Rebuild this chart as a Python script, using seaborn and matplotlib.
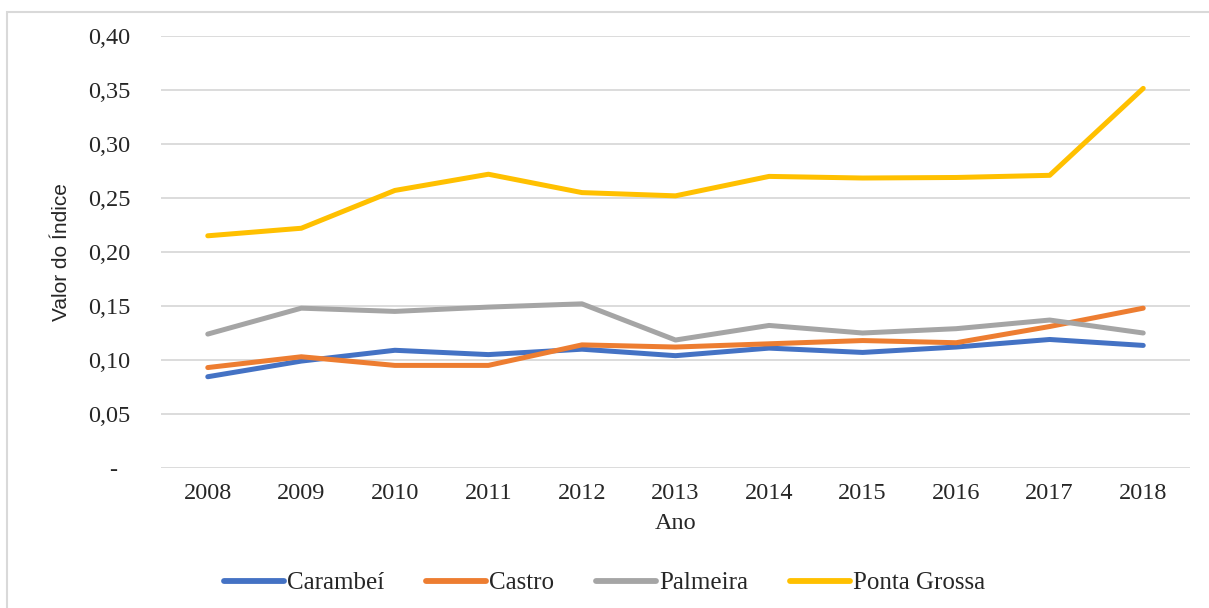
import matplotlib
matplotlib.use("Agg")
import matplotlib.pyplot as plt
import matplotlib.ticker as mticker
from matplotlib.patches import Rectangle
import pandas as pd
import seaborn as sns

# dados
anos = [2008, 2009, 2010, 2011, 2012, 2013, 2014, 2015, 2016, 2017, 2018]
carambei = [0.0845, 0.099, 0.109, 0.105, 0.110, 0.104, 0.111, 0.107, 0.112, 0.119, 0.1135]
castro = [0.093, 0.103, 0.095, 0.095, 0.114, 0.112, 0.115, 0.118, 0.116, 0.131, 0.148]
palmeira = [0.124, 0.148, 0.145, 0.149, 0.152, 0.1185, 0.132, 0.125, 0.129, 0.137, 0.125]
ponta_grossa = [0.215, 0.222, 0.257, 0.272, 0.255, 0.252, 0.270, 0.2685, 0.269, 0.271, 0.3515]

municipios = ["Carambeí", "Castro", "Palmeira", "Ponta Grossa"]
cores = ["#4472C4", "#ED7D31", "#A5A5A5", "#FFC000"]
y_ticks = [0, 0.05, 0.10, 0.15, 0.20, 0.25, 0.30, 0.35, 0.40]

df = pd.DataFrame({
    "Ano": anos * 4,
    "valor": carambei + castro + palmeira + ponta_grossa,
    "municipio": [m for m in municipios for _ in anos],
})

sns.set_style("white")
serif = ["Liberation Serif", "DejaVu Serif"]

fig = plt.figure(figsize=(12.09, 6.08), dpi=100)
ax = fig.add_axes([161 / 1209, 1 - 468 / 608, (1190 - 161) / 1209, (468 - 36) / 608])

sns.lineplot(data=df, x="Ano", y="valor", hue="municipio", hue_order=municipios,
             palette=cores, linewidth=3.6, ax=ax, legend=False)

ax.set_xlim(2007.5, 2018.5)
ax.set_ylim(0, 0.40)
ax.set_xticks(anos)
ax.set_yticks(y_ticks)

def fmt_y(v, pos):
    if abs(v) < 1e-9:
        return "-  "
    return f"{v:.2f}".replace(".", ",")

ax.yaxis.set_major_formatter(mticker.FuncFormatter(fmt_y))
ax.grid(axis="y", color="#D9D9D9", linewidth=1.3)
ax.grid(axis="x", visible=False)
ax.set_axisbelow(True)
for s in ax.spines.values():
    s.set_visible(False)
ax.tick_params(axis="both", length=0, labelsize=17.5)
ax.tick_params(axis="y", pad=22)
ax.tick_params(axis="x", pad=11)
for lab in ax.get_xticklabels() + ax.get_yticklabels():
    lab.set_family(serif)
    lab.set_color("#262626")

ax.set_xlabel("Ano", fontsize=17.5, family=serif, color="#262626", labelpad=6)
ax.set_ylabel("Valor do Índice", fontsize=15, family=["Liberation Sans", "DejaVu Sans"],
              color="#262626", labelpad=12)

handles = [plt.Line2D([], [], color=c, linewidth=4.2, solid_capstyle="round") for c in cores]
fig.legend(handles, municipios, loc="center", bbox_to_anchor=(0.5, 1 - 583 / 608),
           ncol=4, frameon=False, prop={"family": serif, "size": 18},
           handlelength=2.4, handletextpad=0.1, columnspacing=1.7)

# moldura cinza clara do gráfico
fig.patches.append(Rectangle((7 / 1209, -0.05), 1.0, 1 - 12 / 608 + 0.05,
                             transform=fig.transFigure, fill=False,
                             edgecolor="#D9D9D9", linewidth=1.5))

fig.savefig("out.png", dpi=100)
plt.close(fig)
